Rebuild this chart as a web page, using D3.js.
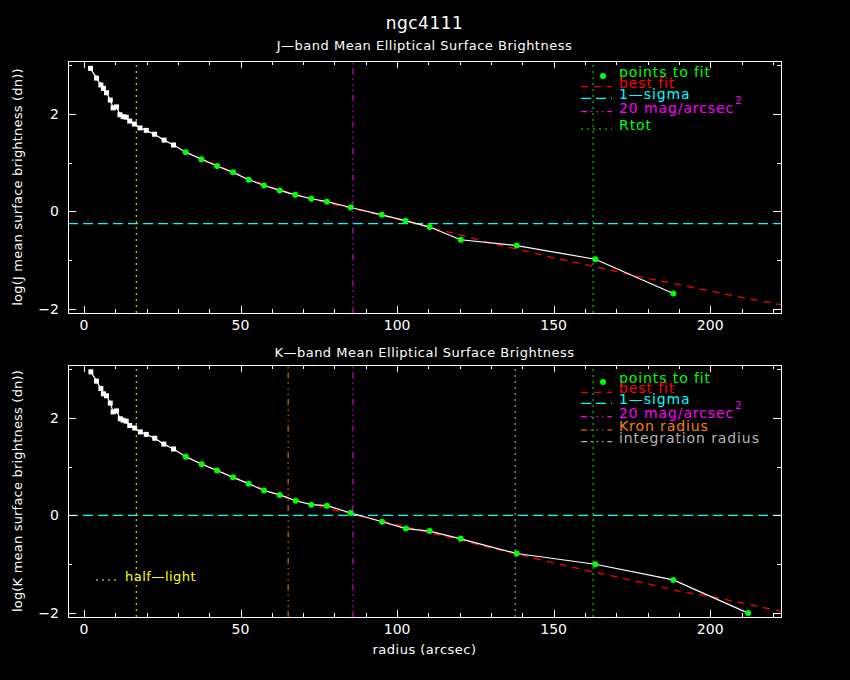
<!DOCTYPE html>
<html>
<head>
<meta charset="utf-8">
<script src="https://cdn.jsdelivr.net/npm/d3@7"></script>
<style>
  body { margin: 0; background: #000; }
  svg { display: block; }
  text { font-family: "DejaVu Sans", sans-serif; fill: #fff; }
</style>
</head>
<body>
<script>
//////////////////////////////////////////////////////////////////////////////
// Data

var galaxyName = "ngc4111";

var jRadius = [2.1, 4.0, 5.4, 6.2, 7.2, 8.4, 9.3, 10.4, 11.5, 12.5, 13.5, 14.6,
               16.1, 17.9, 19.9, 22.5, 25.6, 28.6, 32.5, 37.5, 42.5, 47.6, 52.6,
               57.5, 62.5, 67.5, 72.6, 77.6, 85.2, 95.1, 102.7, 110.4, 120.3,
               138.2, 163.3, 188.2];
var jLogSB  = [2.93, 2.73, 2.59, 2.52, 2.43, 2.28, 2.12, 2.14, 1.98, 1.94, 1.93, 1.85,
               1.79, 1.71, 1.66, 1.58, 1.46, 1.36, 1.21, 1.07, 0.93, 0.80, 0.65,
               0.53, 0.43, 0.34, 0.26, 0.20, 0.08, -0.07, -0.19, -0.32, -0.58,
               -0.70, -0.98, -1.68];

var kRadius = [2.2, 4.0, 5.4, 6.2, 7.2, 8.4, 9.3, 10.4, 11.6, 12.5, 13.5, 14.6,
               16.2, 18.0, 19.9, 22.6, 25.5, 28.6, 32.5, 37.6, 42.5, 47.6, 52.6,
               57.5, 62.5, 67.6, 72.6, 77.6, 85.2, 95.2, 102.8, 110.4, 120.3,
               138.2, 163.3, 188.2, 212.1];
var kLogSB  = [2.94, 2.75, 2.60, 2.49, 2.45, 2.30, 2.12, 2.14, 1.98, 1.95, 1.93, 1.84,
               1.79, 1.71, 1.66, 1.58, 1.46, 1.36, 1.20, 1.05, 0.92, 0.78, 0.65,
               0.51, 0.42, 0.30, 0.22, 0.20, 0.05, -0.13, -0.27, -0.32, -0.48,
               -0.78, -1.00, -1.32, -2.00];

// index of the first point used in the fit (green points)
var firstFitIndex = 18;

// best fit curves
var fitRadius = [32.5, 40, 50, 60, 70, 80, 90, 100, 110, 120, 130, 140, 150,
                 160, 170, 180, 190, 200, 210, 222.6];
var jFit = [1.22, 1.01, 0.74, 0.49, 0.30, 0.14, 0.00, -0.16, -0.32, -0.48, -0.65,
            -0.80, -0.95, -1.09, -1.23, -1.37, -1.50, -1.63, -1.76, -1.91];
var kFit = [1.21, 0.99, 0.72, 0.47, 0.27, 0.11, -0.04, -0.19, -0.35, -0.50, -0.67,
            -0.82, -0.97, -1.12, -1.26, -1.40, -1.55, -1.66, -1.79, -1.96];

// reference levels and radii
var jSigma = -0.25, kSigma = 0.0;
var halfLight = 16.7, mag20 = 85.9, rTot = 162.6;
var kronRadius = 65.2, integRadius = 137.7;

var xTicks = [0, 50, 100, 150, 200];
var yTicks = [-2, 0, 2];

//////////////////////////////////////////////////////////////////////////////
// Layout

var width = 850, height = 680;
var left = 68, right = 781, panelH = 252;
var panelTops = [61, 365];

var svg = d3.select("body").append("svg")
    .attr("width", width)
    .attr("height", height);

svg.append("rect").attr("width", width).attr("height", height).attr("fill", "#000");

var xScale = d3.scaleLinear().domain([-5.1, 222.6]).range([left, right]);

var dotted = "2,4";
var dashDots = "6,4,1.5,4,1.5,4,1.5,4";

function vline(g, yScale, r, color, dash) {
    g.append("line")
        .attr("x1", xScale(r)).attr("x2", xScale(r))
        .attr("y1", yScale.range()[0]).attr("y2", yScale.range()[1])
        .attr("stroke", color).attr("stroke-width", 1)
        .attr("stroke-dasharray", dash);
}

function hline(g, yScale, v, color, dash) {
    g.append("line")
        .attr("x1", left).attr("x2", right)
        .attr("y1", yScale(v)).attr("y2", yScale(v))
        .attr("stroke", color).attr("stroke-width", 1.2)
        .attr("stroke-dasharray", dash);
}

function drawFrame(g, yScale) {
    var bottom = yScale.range()[0], top = yScale.range()[1];
    var frame = g.append("g").attr("stroke", "#fff").attr("shape-rendering", "crispEdges");
    frame.append("rect")
        .attr("x", left + 0.5).attr("y", top + 0.5)
        .attr("width", right - left).attr("height", bottom - top)
        .attr("fill", "none");

    // x ticks every 10, major every 50, on bottom and top
    d3.range(0, 221, 10).forEach(function(v) {
        var len = (v % 50 === 0) ? 7 : 4;
        var x = Math.round(xScale(v)) + 0.5;
        frame.append("line").attr("x1", x).attr("x2", x)
            .attr("y1", bottom).attr("y2", bottom - len);
        frame.append("line").attr("x1", x).attr("x2", x)
            .attr("y1", top).attr("y2", top + len);
    });
    // y ticks every 1, major every 2, on left and right
    d3.range(-2, 3.01, 1).forEach(function(v) {
        var len = (v % 2 === 0) ? 8 : 4;
        var y = Math.round(yScale(v)) + 0.5;
        frame.append("line").attr("x1", left).attr("x2", left + len)
            .attr("y1", y).attr("y2", y);
        frame.append("line").attr("x1", right).attr("x2", right - len)
            .attr("y1", y).attr("y2", y);
    });

    g.selectAll(".xlab").data(xTicks).enter().append("text")
        .attr("x", function(d) { return xScale(d); })
        .attr("y", bottom + 17)
        .attr("text-anchor", "middle")
        .attr("font-size", 14)
        .text(function(d) { return d; });

    g.selectAll(".ylab").data(yTicks).enter().append("text")
        .attr("x", 59)
        .attr("y", function(d) { return yScale(d) + 5; })
        .attr("text-anchor", "end")
        .attr("font-size", 14)
        .text(function(d) { return d < 0 ? "\u2212" + (-d) : d; });
}

function drawProfile(g, yScale, radius, logSB, fit) {
    var pts = radius.map(function(r, i) { return [r, logSB[i]]; });
    var line = d3.line()
        .x(function(d) { return xScale(d[0]); })
        .y(function(d) { return yScale(d[1]); });

    g.append("path")
        .attr("d", line(fitRadius.map(function(r, i) { return [r, fit[i]]; })))
        .attr("fill", "none").attr("stroke", "#ff0000")
        .attr("stroke-width", 1.3).attr("stroke-dasharray", "7,6");

    g.append("path")
        .attr("d", line(pts))
        .attr("fill", "none").attr("stroke", "#fff").attr("stroke-width", 1.2);

    g.selectAll(".white").data(pts.slice(0, firstFitIndex)).enter().append("rect")
        .attr("x", function(d) { return xScale(d[0]) - 2.5; })
        .attr("y", function(d) { return yScale(d[1]) - 2.5; })
        .attr("width", 5).attr("height", 5)
        .attr("fill", "#fff");

    g.selectAll(".green").data(pts.slice(firstFitIndex)).enter().append("circle")
        .attr("cx", function(d) { return xScale(d[0]); })
        .attr("cy", function(d) { return yScale(d[1]); })
        .attr("r", 3)
        .attr("fill", "#00ff00");
}

function legendRow(g, y, color, dash, label, sup) {
    if (dash === "dot") {
        g.append("circle").attr("cx", 603).attr("cy", y).attr("r", 3).attr("fill", color);
    } else {
        g.append("line").attr("x1", 581).attr("x2", 612)
            .attr("y1", y).attr("y2", y)
            .attr("stroke", color).attr("stroke-width", 1.2)
            .attr("stroke-dasharray", dash);
    }
    var t = g.append("text").attr("x", 619).attr("y", y + 1)
        .attr("font-size", 14).attr("letter-spacing", 0.9)
        .style("fill", color).text(label);
    if (sup) {
        t.append("tspan").attr("dy", -9).attr("dx", 1).attr("font-size", 10).text(sup);
    }
}

//////////////////////////////////////////////////////////////////////////////
// Titles

svg.append("text").attr("x", 424.5).attr("y", 29)
    .attr("text-anchor", "middle").attr("font-size", 17).attr("letter-spacing", 0.5)
    .text(galaxyName);

svg.append("text").attr("x", 424.5).attr("y", 50)
    .attr("text-anchor", "middle").attr("font-size", 13).attr("letter-spacing", 0.5)
    .text("J\u2014band Mean Elliptical Surface Brightness");

svg.append("text").attr("x", 424.5).attr("y", 357)
    .attr("text-anchor", "middle").attr("font-size", 13).attr("letter-spacing", 0.5)
    .text("K\u2014band Mean Elliptical Surface Brightness");

svg.append("text").attr("x", 424.5).attr("y", 654)
    .attr("text-anchor", "middle").attr("font-size", 13).attr("letter-spacing", 0.5)
    .text("radius (arcsec)");

//////////////////////////////////////////////////////////////////////////////
// J-band panel

var yJ = d3.scaleLinear().domain([-2.08, 3.08]).range([panelTops[0] + panelH, panelTops[0]]);
var gJ = svg.append("g");

svg.append("text")
    .attr("transform", "translate(22," + (panelTops[0] + panelH / 2) + ") rotate(-90)")
    .attr("text-anchor", "middle").attr("font-size", 13).attr("letter-spacing", 0.2)
    .text("log(J mean surface brightness (dn))");

vline(gJ, yJ, halfLight, "#ffff00", dotted);
vline(gJ, yJ, mag20, "#ff00ff", dashDots);
vline(gJ, yJ, rTot, "#00ff00", dotted);
hline(gJ, yJ, jSigma, "#00ffff", "10,5");
drawProfile(gJ, yJ, jRadius, jLogSB, jFit);
drawFrame(gJ, yJ);

legendRow(gJ, 76, "#00ff00", "dot", "points to fit");
legendRow(gJ, 86.7, "#ff0000", "7,6", "best fit");
legendRow(gJ, 98.3, "#00ffff", "10,5", "1\u2014sigma");
legendRow(gJ, 111.7, "#ff00ff", dashDots, "20 mag/arcsec", "2");
legendRow(gJ, 129, "#00ff00", dotted, "Rtot");

//////////////////////////////////////////////////////////////////////////////
// K-band panel

var yK = d3.scaleLinear().domain([-2.08, 3.08]).range([panelTops[1] + panelH, panelTops[1]]);
var gK = svg.append("g");

svg.append("text")
    .attr("transform", "translate(22," + (panelTops[1] + panelH / 2) + ") rotate(-90)")
    .attr("text-anchor", "middle").attr("font-size", 13).attr("letter-spacing", 0.2)
    .text("log(K mean surface brightness (dn))");

vline(gK, yK, halfLight, "#ffff00", dotted);
vline(gK, yK, kronRadius, "#ff8000", dashDots);
vline(gK, yK, mag20, "#ff00ff", dashDots);
vline(gK, yK, integRadius, "#b4b4b4", dotted);
vline(gK, yK, rTot, "#00ff00", dotted);
hline(gK, yK, kSigma, "#00ffff", "10,5");
drawProfile(gK, yK, kRadius, kLogSB, kFit);
drawFrame(gK, yK);

legendRow(gK, 382, "#00ff00", "dot", "points to fit");
legendRow(gK, 392.3, "#ff0000", "7,6", "best fit");
legendRow(gK, 403.3, "#00ffff", "10,5", "1\u2014sigma");
legendRow(gK, 416.7, "#ff00ff", dashDots, "20 mag/arcsec", "2");
legendRow(gK, 430, "#ff8000", dashDots, "Kron radius");
legendRow(gK, 441.7, "#b4b4b4", dashDots, "integration radius");

// half-light legend
gK.append("line").attr("x1", 96).attr("x2", 118).attr("y1", 580).attr("y2", 580)
    .attr("stroke", "#ffff00").attr("stroke-width", 1.2).attr("stroke-dasharray", dotted);
gK.append("text").attr("x", 125).attr("y", 581).attr("font-size", 13).attr("letter-spacing", 0.5)
    .style("fill", "#ffff00").text("half\u2014light");
</script>
</body>
</html>
